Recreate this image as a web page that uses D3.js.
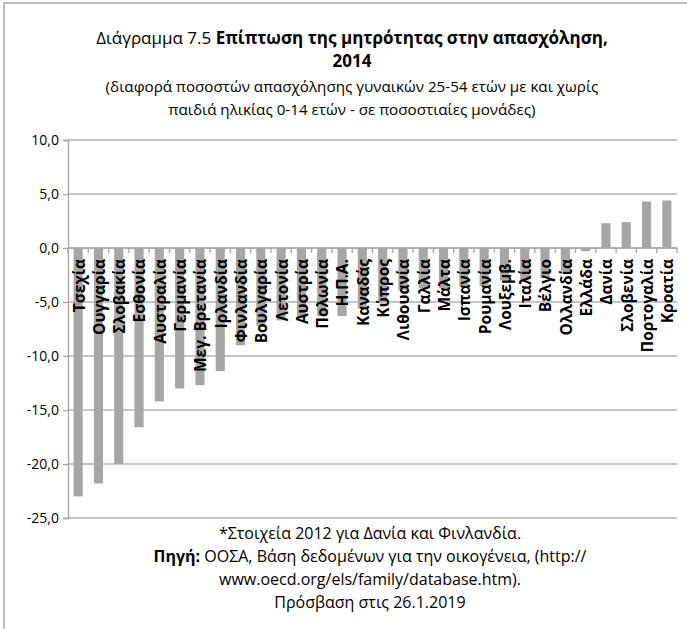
<!DOCTYPE html>
<html><head><meta charset="utf-8">
<script src="https://cdn.jsdelivr.net/npm/d3@7"></script>
<style>
html,body{margin:0;padding:0;background:#fff;}
svg{display:block;}
text{font-family:"Open Sans",sans-serif;fill:#000;}
</style></head>
<body>
<svg id="c" width="687" height="629"></svg>
<script>
const categories = ["Τσεχία","Ουγγαρία","Σλοβακία","Εσθονία","Αυστραλία","Γερμανία","Μεγ. Βρετανία","Ιρλανδία","Φινλανδία","Βουλγαρία","Λετονία","Αυστρία","Πολωνία","Η.Π.Α.","Καναδάς","Κύπρος","Λιθουανία","Γαλλία","Μάλτα","Ισπανία","Ρουμανία","Λουξεμβ.","Ιταλία","Βέλγιο","Ολλανδία","Ελλάδα","Δανία","Σλοβενία","Πορτογαλία","Κροατία"];
const values = [-23.0,-21.8,-20.0,-16.6,-14.2,-13.0,-12.7,-11.4,-9.0,-7.2,-6.7,-6.4,-6.3,-6.3,-5.6,-5.0,-3.9,-3.7,-3.7,-3.6,-3.5,-3.0,-3.0,-2.8,-2.2,-0.3,2.3,2.4,4.3,4.4];
const yTicks = [10,5,0,-5,-10,-15,-20,-25];
const titleLine1Normal = "Διάγραμμα 7.5 ";
const titleLine1Bold = "Επίπτωση της μητρότητας στην απασχόληση,";
const titleLine2 = "2014";
const subtitle = ["(διαφορά ποσοστών απασχόλησης γυναικών 25-54 ετών με και χωρίς","παιδιά ηλικίας 0-14 ετών - σε ποσοστιαίες μονάδες)"];
const noteLine = "*Στοιχεία 2012 για Δανία και Φινλανδία.";
const sourceBold = "Πηγή:";
const sourceRest = " ΟΟΣΑ, Βάση δεδομένων για την οικογένεια, (http://";
const sourceLine2 = "www.oecd.org/els/family/database.htm).";
const accessLine = "Πρόσβαση στις 26.1.2019";

const svg = d3.select("#c");
svg.append("rect").attr("x",4).attr("y",3).attr("width",720).attr("height",660)
  .attr("fill","none").attr("stroke","#a6a6a6").attr("stroke-width",1.5);

const L=68,R=677,T=140,B=518;
const x = d3.scaleBand().domain(categories).range([L,R]).paddingInner(0.55).paddingOuter(0.275);
const y = d3.scaleLinear().domain([-25,10]).range([B,T]);
const fmt = v => d3.format(".1f")(v).replace(".",",").replace("−","-");

// gridlines
svg.append("g").selectAll("line").data(yTicks).join("line")
  .attr("x1",L).attr("x2",R).attr("y1",d=>y(d)).attr("y2",d=>y(d))
  .attr("stroke","#b3b3b3").attr("stroke-width",1.3);

// y axis
const yAxis = svg.append("g").attr("transform",`translate(${L},0)`)
  .call(d3.axisLeft(y).tickValues(yTicks).tickFormat(fmt).tickSize(5).tickPadding(4));
yAxis.select(".domain").attr("stroke","#a6a6a6").attr("stroke-width",1.3);
yAxis.selectAll(".tick line").attr("stroke","#a6a6a6").attr("stroke-width",1.3);
yAxis.selectAll(".tick text").attr("font-size",14).attr("font-family","'Open Sans',sans-serif").attr("fill","#000");

// bars
svg.append("g").selectAll("rect").data(values).join("rect")
  .attr("x",(d,i)=>x(categories[i]))
  .attr("width",x.bandwidth())
  .attr("y",d=>y(Math.max(0,d)))
  .attr("height",d=>Math.abs(y(d)-y(0)))
  .attr("fill","#a6a6a6");

// category axis at zero
const step = x.step();
const bounds = d3.range(categories.length+1).map(i=>L+i*step);
svg.append("line").attr("x1",L).attr("x2",R).attr("y1",y(0)).attr("y2",y(0))
  .attr("stroke","#a6a6a6").attr("stroke-width",1.3);
svg.append("g").selectAll("line").data(bounds).join("line")
  .attr("x1",d=>d).attr("x2",d=>d).attr("y1",y(0)).attr("y2",y(0)+5)
  .attr("stroke","#a6a6a6").attr("stroke-width",1.3);

// category labels
svg.append("g").selectAll("text").data(categories).join("text")
  .attr("transform",d=>`translate(${x(d)+x.bandwidth()/2+1},${y(0)+11}) rotate(-90)`)
  .attr("text-anchor","end").attr("dy","0.35em")
  .attr("font-size",15.5).attr("font-weight","bold")
  .text(d=>d);

// title
const cx = 352;
const t1 = svg.append("text").attr("x",cx).attr("y",44).attr("text-anchor","middle").attr("font-size",17);
t1.append("tspan").text(titleLine1Normal);
t1.append("tspan").attr("font-weight","bold").text(titleLine1Bold);
svg.append("text").attr("x",cx).attr("y",67).attr("text-anchor","middle").attr("font-size",17)
  .attr("font-weight","bold").text(titleLine2);
subtitle.forEach((s,i)=>{
  svg.append("text").attr("x",cx).attr("y",92+i*23).attr("text-anchor","middle").attr("font-size",15.2).text(s);
});

// footer
const fx = 370;
svg.append("text").attr("x",fx).attr("y",539).attr("text-anchor","middle").attr("font-size",16).text(noteLine);
const s2 = svg.append("text").attr("x",fx).attr("y",562).attr("text-anchor","middle").attr("font-size",16);
s2.append("tspan").attr("font-weight","bold").text(sourceBold);
s2.append("tspan").text(sourceRest);
svg.append("text").attr("x",fx).attr("y",585).attr("text-anchor","middle").attr("font-size",16).text(sourceLine2);
svg.append("text").attr("x",fx).attr("y",608).attr("text-anchor","middle").attr("font-size",16).text(accessLine);
</script>
</body></html>
